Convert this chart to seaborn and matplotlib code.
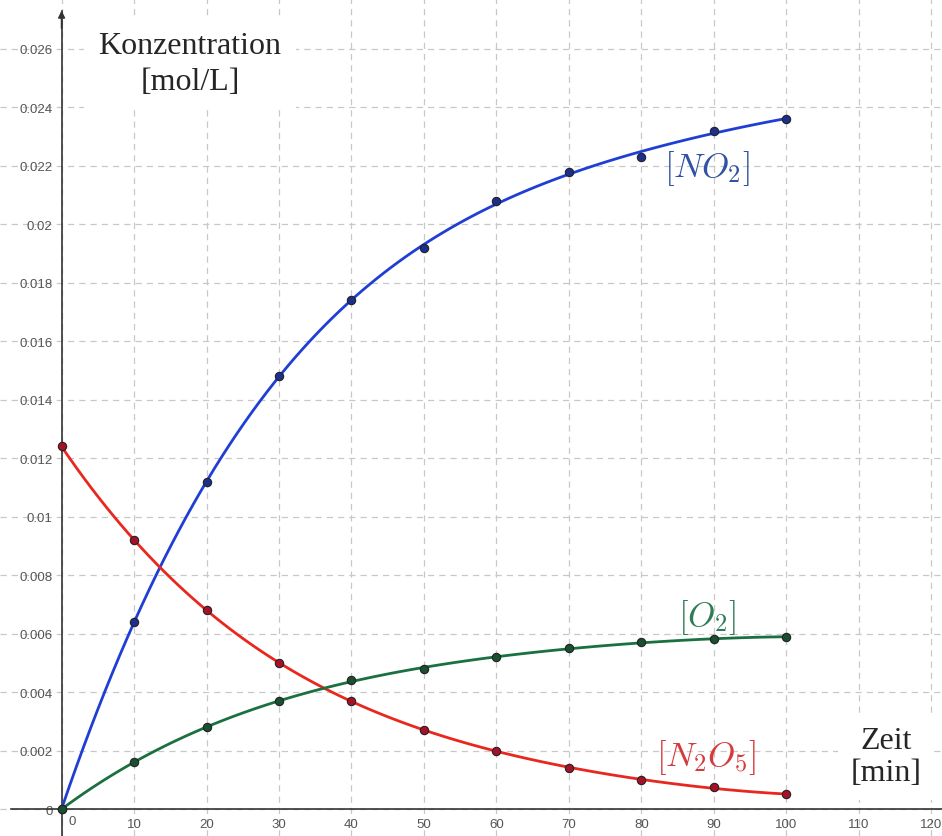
import numpy as np
import pandas as pd
import seaborn as sns
import matplotlib.pyplot as plt
from matplotlib.ticker import FixedLocator, FuncFormatter

# Messwerte (Zeit in min, Konzentration in mol/L)
zeit = [0, 10, 20, 30, 40, 50, 60, 70, 80, 90, 100]
no2 = [0.0, 0.0064, 0.0112, 0.0148, 0.0174, 0.0192, 0.0208, 0.0218, 0.0223, 0.0232, 0.0236]
n2o5 = [0.0124, 0.0092, 0.0068, 0.0050, 0.0037, 0.0027, 0.0020, 0.0014, 0.0010, 0.00075, 0.0005]
o2 = [0.0, 0.0016, 0.0028, 0.0037, 0.0044, 0.0048, 0.0052, 0.0055, 0.0057, 0.0058, 0.0059]

x_ticks = list(range(0, 121, 10))
y_ticks = [0.000, 0.002, 0.004, 0.006, 0.008, 0.010, 0.012, 0.014,
           0.016, 0.018, 0.020, 0.022, 0.024, 0.026]

sns.set_style('white')
plt.rcParams['font.family'] = ['Liberation Sans', 'DejaVu Sans']
plt.rcParams['mathtext.fontset'] = 'cm'

fig = plt.figure(figsize=(9.42, 8.37), dpi=100)
ax = fig.add_axes([0, 0, 1, 1])

kurven = [
    (no2, '#1f3fd4', '#1c2f8c'),
    (n2o5, '#e8281e', '#a8102a'),
    (o2, '#1b7040', '#1a4f30'),
]
for werte, linie, punkt in kurven:
    df = pd.DataFrame({'t': zeit, 'c': werte})
    sns.regplot(data=df, x='t', y='c', order=4, ci=None, scatter=False, ax=ax,
                line_kws=dict(color=linie, lw=2.0, zorder=3))
    sns.scatterplot(data=df, x='t', y='c', ax=ax, color=punkt, edgecolor='#222222',
                    s=36, linewidth=0.8, zorder=4)

ax.set_xlabel('')
ax.set_ylabel('')
ax.set_xlim(-8.5, 121.5)
ax.set_ylim(-0.00092, 0.0277)

ax.xaxis.set_major_locator(FixedLocator(x_ticks))
ax.yaxis.set_major_locator(FixedLocator(y_ticks))
ax.xaxis.set_major_formatter(FuncFormatter(lambda v, p: '' if v == 0 else f'{v:g}'))
ax.yaxis.set_major_formatter(FuncFormatter(lambda v, p: f'{v:.4g}'))

ax.grid(True, ls=(0, (5, 4)), color='#c8c8c8', lw=0.9)
ax.spines[['top', 'right']].set_visible(False)
for s in ['left', 'bottom']:
    ax.spines[s].set_position(('data', 0))
    ax.spines[s].set_color('#333333')
    ax.spines[s].set_linewidth(1.2)
ax.spines['left'].set_bounds(-0.00092, 0.0273)
ax.spines['bottom'].set_bounds(-7.0, 121.5)
ax.tick_params(direction='inout', length=6, color='#333333', labelcolor='#555555',
               labelsize=9.5)
ax.annotate('', xy=(0, 0.0274), xytext=(0, 0.0266),
            arrowprops=dict(arrowstyle='-|>', color='#333333', lw=1.2, mutation_scale=10))
ax.text(1.0, -0.0004, '0', color='#555555', fontsize=9.5, ha='left', va='center')

serif = ['Liberation Serif', 'DejaVu Serif']
ax.text(17.7, 0.0255, 'Konzentration\n[mol/L]', family=serif, size=23,
        ha='center', va='center', linespacing=1.3,
        bbox=dict(boxstyle='square,pad=0.45', fc='white', ec='none'))
ax.text(113.8, 0.0018, 'Zeit\n[min]', family=serif, size=23,
        ha='center', va='center', linespacing=1.15,
        bbox=dict(boxstyle='square,pad=0.4', fc='white', ec='none'))

ax.text(89.0, 0.02195, '$[NO_2]$', color='#3052a2', size=25, ha='center', va='center')
ax.text(89.1, 0.0066, '$[O_2]$', color='#2e7d55', size=25, ha='center', va='center')
ax.text(89.0, 0.0018, '$[N_2O_5]$', color='#d63a3a', size=25, ha='center', va='center')

fig.savefig('out.png', dpi=100, facecolor='white')
